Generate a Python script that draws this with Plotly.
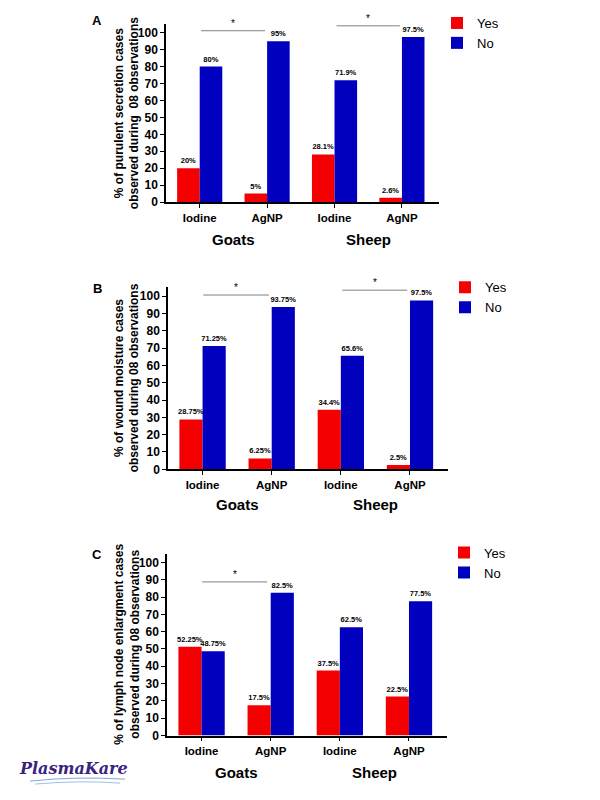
import plotly.graph_objects as go

# ---------------- data ----------------
positions = [0, 1, 2, 3]
tick_labels = ["Iodine", "AgNP", "Iodine", "AgNP"]
species = ["Goats", "Sheep"]
panel_letters = ["A", "B", "C"]

yes_A = [20, 5, 28.1, 2.6]
no_A = [80, 95, 71.9, 97.5]
yes_A_lbl = ["20%", "5%", "28.1%", "2.6%"]
no_A_lbl = ["80%", "95%", "71.9%", "97.5%"]

yes_B = [28.75, 6.25, 34.4, 2.5]
no_B = [71.25, 93.75, 65.6, 97.5]
yes_B_lbl = ["28.75%", "6.25%", "34.4%", "2.5%"]
no_B_lbl = ["71.25%", "93.75%", "65.6%", "97.5%"]

yes_C = [51.25, 17.5, 37.5, 22.5]
no_C = [48.75, 82.5, 62.5, 77.5]
yes_C_lbl = ["52.25%", "17.5%", "37.5%", "22.5%"]
no_C_lbl = ["48.75%", "82.5%", "62.5%", "77.5%"]

y_titles = [
    "% of purulent secretion cases<br>observed during  08 observations",
    "% of wound moisture cases<br>observed during 08 observations",
    "% of lymph node enlargment cases<br>observed during 08 observations",
]
y_ticks = list(range(0, 101, 10))

# ---------------- styling / layout ----------------
# the page body has an 8px default margin; work in window pixels
OFF = 8
W, H = 600 - OFF, 800 - OFF
RED = "#F50000"
BLUE = "#0000BE"
FONT = "Liberation Sans"


def px(x):
    return (x - OFF) / W


def py(y):
    return 1 - (y - OFF) / H


# pixel geometry of each panel: (x_left, x_right, y_bottom, px_per_unit)
geom = [(166, 439, 203, 1.71), (168, 448, 473, 1.75), (167, 447, 742, 1.75)]
group_label_offset = [38, 36, 37]
YMAX = 105
XR = [-0.5, 3.55]

# significance brackets per panel: (x0, x1, y)
brackets = [
    [(0.02, 0.97, 101.2), (2.03, 2.97, 104.1)],
    [(0.01, 0.96, 100.6), (2.02, 2.96, 103.4)],
    [(0.01, 0.95, 88.7)],
]
# legend pixel position (text-left, first item center y)
legend_pos = [(477, 22), (485, 289), (484, 557)]

data_sets = [
    (yes_A, no_A, yes_A_lbl, no_A_lbl),
    (yes_B, no_B, yes_B_lbl, no_B_lbl),
    (yes_C, no_C, yes_C_lbl, no_C_lbl),
]

fig = go.Figure()
layout_axes = {}
annotations = []
shapes = []

for i, (yv, nv, yl, nl) in enumerate(data_sets):
    sfx = "" if i == 0 else str(i + 1)
    xa, ya = "x" + sfx, "y" + sfx
    leg = "legend" if i == 0 else "legend" + str(i + 1)
    for name, vals, lbls, col in [("Yes", yv, yl, RED), ("No", nv, nl, BLUE)]:
        fig.add_trace(go.Bar(
            x=positions, y=vals, name=name, text=lbls,
            textposition="outside", constraintext="none", cliponaxis=False,
            textfont=dict(family=FONT, size=7.5, color="black", weight="bold"),
            marker=dict(color=col, line=dict(width=0)),
            xaxis=xa, yaxis=ya, legend=leg,
        ))
    xl, xr, yb, k = geom[i]
    ytop = yb - YMAX * k
    layout_axes["xaxis" + sfx] = dict(
        domain=[px(xl), px(xr)], range=XR, anchor=ya,
        tickvals=positions, ticktext=tick_labels,
        ticks="outside", ticklen=4, tickwidth=1, tickcolor="black",
        showline=True, linecolor="black", linewidth=1.5,
        showgrid=False, zeroline=False,
        tickfont=dict(family=FONT, size=11.5, color="black", weight="bold"),
    )
    layout_axes["yaxis" + sfx] = dict(
        domain=[py(yb), py(ytop)], range=[0, YMAX], anchor=xa,
        tickvals=y_ticks, ticks="outside", ticklen=4, tickwidth=1,
        tickcolor="black", showline=True, linecolor="black", linewidth=1.5,
        showgrid=False, zeroline=False,
        tickfont=dict(family=FONT, size=12, color="black", weight="bold"),
    )
    # y title
    annotations.append(dict(
        x=px(127), y=py((yb + ytop) / 2), xref="paper", yref="paper",
        text=y_titles[i], textangle=-90, showarrow=False,
        font=dict(family=FONT, size=12, color="black", weight="bold"),
        xanchor="center", yanchor="middle",
    ))
    # group labels
    for j, sp in enumerate(species):
        annotations.append(dict(
            x=2 * j + 0.5, y=py(yb + group_label_offset[i]), xref=xa, yref="paper",
            text=sp, showarrow=False,
            font=dict(family=FONT, size=15, color="black", weight="bold"),
            xanchor="center", yanchor="middle",
        ))
    # panel letter
    annotations.append(dict(
        x=px(97), y=py(yb - 183), xref="paper", yref="paper",
        text=panel_letters[i], showarrow=False,
        font=dict(family=FONT, size=13, color="black", weight="bold"),
        xanchor="center", yanchor="middle",
    ))
    # significance brackets
    for (x0, x1, yy) in brackets[i]:
        shapes.append(dict(type="line", xref=xa, yref=ya, x0=x0, x1=x1,
                           y0=yy, y1=yy, line=dict(color="#808080", width=1)))
        annotations.append(dict(
            x=(x0 + x1) / 2, y=yy, xref=xa, yref=ya, text="*",
            showarrow=False, yanchor="bottom", xanchor="center",
            font=dict(family=FONT, size=10, color="black"),
        ))
    lx, ly = legend_pos[i]
    layout_axes[leg] = dict(
        x=px(lx - 40), y=py(ly - 15), xanchor="left", yanchor="top",
        font=dict(family=FONT, size=13, color="black"),
        bgcolor="rgba(0,0,0,0)", tracegroupgap=0, itemwidth=30,
    )

# logo
annotations.append(dict(
    x=px(17), y=py(775), xref="paper", yref="paper", text="PlasmaKare",
    showarrow=False, xanchor="left", yanchor="middle",
    font=dict(family="DejaVu Serif", size=16, color="#3A2380",
              weight="bold", style="italic"),
))
shapes.append(dict(type="path", xref="paper", yref="paper",
                   path=f"M {px(30)},{py(788)} Q {px(75)},{py(783)} {px(125)},{py(786)}",
                   line=dict(color="#7FA7D9", width=1)))
shapes.append(dict(type="path", xref="paper", yref="paper",
                   path=f"M {px(35)},{py(791)} Q {px(80)},{py(787)} {px(120)},{py(790)}",
                   line=dict(color="#9FC0E6", width=1)))

fig.update_layout(
    width=W, height=H, margin=dict(l=0, r=0, t=0, b=0),
    paper_bgcolor="white", plot_bgcolor="white",
    barmode="group", bargap=0.33, bargroupgap=0,
    annotations=annotations, shapes=shapes,
    **layout_axes,
)

fig.write_html("out.html")
